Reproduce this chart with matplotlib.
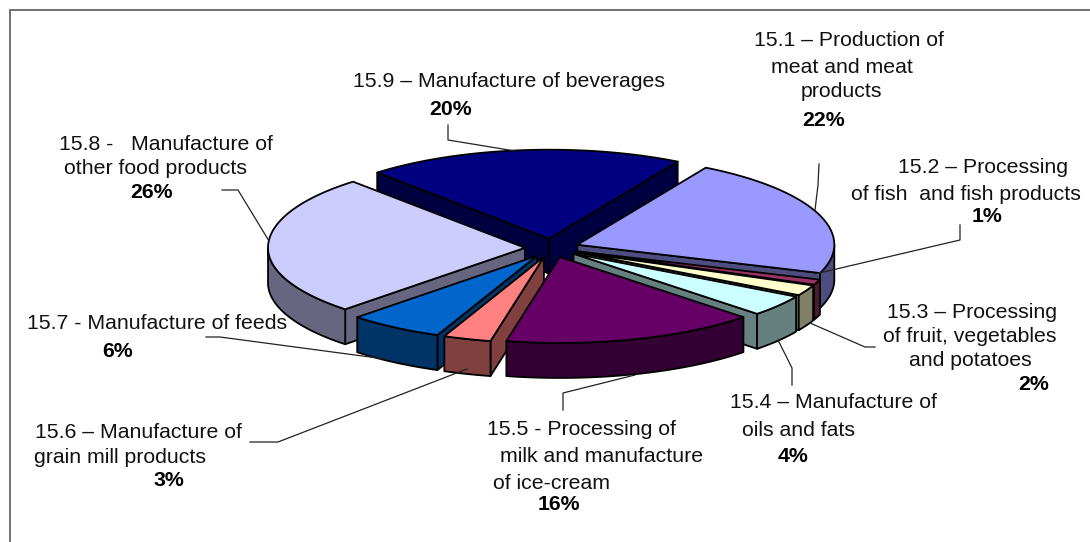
import numpy as np
import matplotlib
matplotlib.use("Agg")
import matplotlib.pyplot as plt
from matplotlib.patches import Polygon

# ---- data ----
codes = ["15.1", "15.2", "15.3", "15.4", "15.5", "15.6", "15.7", "15.8", "15.9"]
values = [22, 1, 2, 4, 16, 3, 6, 26, 20]
colors = ["#9999FF", "#993366", "#FFFFCC", "#CCFFFF", "#660066",
          "#FF8080", "#0066CC", "#CCCCFF", "#000080"]
label_lines = [
    ["15.1 – Production of", "meat and meat", "products"],
    ["15.2 – Processing", "of fish  and fish products"],
    ["15.3 – Processing", "of fruit, vegetables", "and potatoes"],
    ["15.4 – Manufacture of", "oils and fats"],
    ["15.5 - Processing of", "milk and manufacture", "of ice-cream"],
    ["15.6 – Manufacture of", "grain mill products"],
    ["15.7 - Manufacture of feeds"],
    ["15.8 -   Manufacture of", "other food products"],
    ["15.9 – Manufacture of beverages"],
]

# ---- layout (pixels) ----
W, H = 1090, 542
CX, CY = 552, 248
RX = 257
RY_FAR, RY_NEAR = 89, 86
DEPTH = 35
EXPLODE = 27
START = 60
FS = 15.3
label_pos = [
    [(754, 46), (771, 73), (801, 97), (802, 126)],
    [(898, 173), (851, 200), (972, 222)],
    [(887, 318), (883, 342), (909, 366), (1018, 390)],
    [(730, 408), (742, 436), (778, 462)],
    [(487, 435), (500, 462), (493, 489), (538, 510)],
    [(35, 438), (34, 463), (154, 486)],
    [(27, 329), (102, 357)],
    [(59, 150), (64, 174), (130, 198)],
    [(353, 87), (429, 115)],
]
leaders = [
    [(819, 164), (818, 185), (815, 210)],
    [(960, 225), (960, 240), (815, 274)],
    [(810, 323), (865, 347), (875, 347)],
    [(778, 340), (792, 368), (792, 385)],
    [(635, 375), (563, 393), (563, 410)],
    [(250, 442), (278, 442), (467, 369)],
    [(206, 337), (220, 337), (385, 359)],
    [(222, 190), (238, 190), (269, 241)],
    [(448, 125), (448, 140), (515, 151)],
]

plt.rcParams["font.family"] = ["Liberation Sans", "DejaVu Sans"]
fig = plt.figure(figsize=(W / 100, H / 100), dpi=100)
ax = fig.add_axes([0, 0, 1, 1])
ax.set_xlim(0, W)
ax.set_ylim(H, 0)
ax.axis("off")

# chart frame: only top and left edges fall inside the picture
ax.plot([10, 10, W], [H, 10, 10], color="#707070", lw=1.4, solid_joinstyle="miter", zorder=1)


def pt(tip, deg, dz=0):
    a = np.radians(deg)
    s = np.sin(a)
    ry = RY_FAR if s > 0 else RY_NEAR
    return (tip[0] + RX * np.cos(a), tip[1] - ry * s + dz)


def shade(hexcol):
    return tuple(np.array(matplotlib.colors.to_rgb(hexcol)) * 0.5)


fractions = np.array(values) / np.sum(values)
ends = START - np.cumsum(fractions) * 360
starts = np.concatenate([[START], ends[:-1]])
mids = (starts + ends) / 2
order = np.argsort(-np.sin(np.radians(mids)))

edge = dict(edgecolor="black", linewidth=1.3, joinstyle="round")
z = 2
for i in order:
    a1, a2, m = starts[i], ends[i], mids[i]
    mr = np.radians(m)
    tip = (CX + EXPLODE * np.cos(mr), CY - EXPLODE * RY_FAR / RX * np.sin(mr))
    top, side = colors[i], shade(colors[i])
    arc = np.linspace(a1, a2, 80)

    # cut faces visible from the viewpoint
    if np.cos(np.radians(a1)) < 0:
        ax.add_patch(Polygon([tip, pt(tip, a1), pt(tip, a1, dz=DEPTH), (tip[0], tip[1] + DEPTH)],
                             facecolor=side, zorder=z, **edge))
    if np.cos(np.radians(a2)) > 0:
        ax.add_patch(Polygon([tip, pt(tip, a2), pt(tip, a2, dz=DEPTH), (tip[0], tip[1] + DEPTH)],
                             facecolor=side, zorder=z, **edge))
    # outer rim: the part of the arc on the near half of the ellipse
    near = arc[np.sin(np.radians(arc)) <= 0]
    if len(near) > 1:
        upper = [pt(tip, d) for d in near]
        lower = [pt(tip, d, dz=DEPTH) for d in near[::-1]]
        ax.add_patch(Polygon(upper + lower, facecolor=side, zorder=z, **edge))
    # top face
    ax.add_patch(Polygon([tip] + [pt(tip, d) for d in arc], facecolor=top, zorder=z + 0.5, **edge))
    z += 1

# leader lines
for path in leaders:
    xs, ys = zip(*path)
    ax.plot(xs, ys, color="#222222", lw=0.9, zorder=50)

# labels
for lines, val, pos in zip(label_lines, values, label_pos):
    for line, (x, y) in zip(lines, pos[:-1]):
        ax.text(x, y, line, fontsize=FS, color="#111111", ha="left", va="baseline", zorder=60)
    x, y = pos[-1]
    ax.text(x, y, f"{val}%", fontsize=FS, fontweight="bold", color="black",
            ha="left", va="baseline", zorder=60)

fig.savefig("out.png", dpi=100)
